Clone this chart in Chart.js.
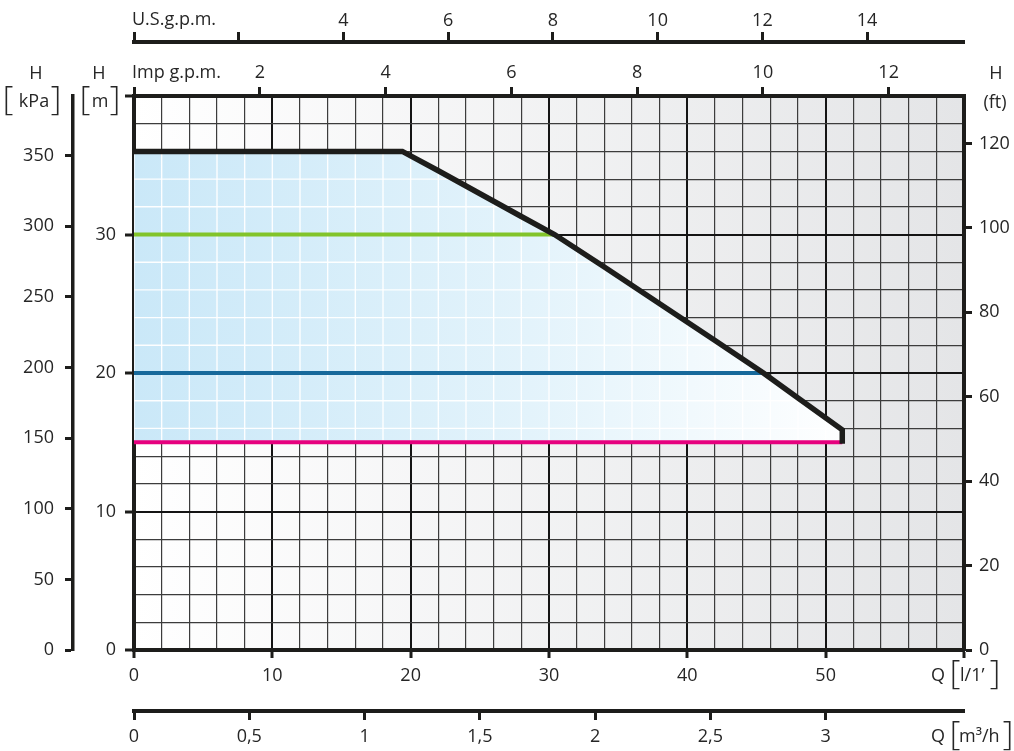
<!DOCTYPE html>
<html>
<head>
<meta charset="utf-8">
<script src="https://cdn.jsdelivr.net/npm/chart.js@4.4.1/dist/chart.umd.min.js"></script>
<style>
html,body{margin:0;padding:0;background:#ffffff;}
#wrap{width:1014px;height:751px;position:relative;}
</style>
</head>
<body>
<div id="wrap"><canvas id="c"></canvas></div>
<script>
// ---- data ----
const curveQ = [0, 19.4, 22, 24, 26, 28, 30.4, 34, 38, 42, 45.5, 48, 51.2, 51.2];
const curveH = [36, 36, 34.6, 33.5, 32.4, 31.3, 30, 27.65, 25.0, 22.35, 20, 18.2, 15.9, 14.9];
const greenQ = [0, 30.3];
const greenH = [30, 30];
const blueQ = [0, 45.4];
const blueH = [20, 20];
const pinkQ = [0, 51.2];
const pinkH = [15, 15];

const qLabels = [0, 10, 20, 30, 40, 50];
const hLabels = [0, 10, 20, 30];
const kpaLabels = [0, 50, 100, 150, 200, 250, 300, 350];
const ftLabels = [0, 20, 40, 60, 80, 100, 120];
const impLabels = [2, 4, 6, 8, 10, 12];
const usLabels = [4, 6, 8, 10, 12, 14];
const m3hLabels = [0, 0.5, 1, 1.5, 2, 2.5, 3];

// unit conversions
const Q_MAX = 60, H_MAX = 40;
const KPA_PER_M = 9.80665, FT_PER_M = 3.28084;
const LPM_PER_IMP = 4.54609, LPM_PER_US = 3.78541, LPM_PER_M3H = 1000 / 60;

const FONT = '"Open Sans", "Noto Sans", sans-serif';
const TXT = '#262626';
const INK = '#1d1d1b';
const tickFont = {family: FONT, size: 18};

function pts(xs, ys) { return xs.map((x, i) => ({x: x, y: ys[i]})); }
function isIn(v, arr) { return arr.some(a => Math.abs(a - v) < 1e-6); }
function isMajor(v, step) { return Math.abs(v / step - Math.round(v / step)) < 1e-6; }

const FILL_INDEX = 4;

const bgPlugin = {
  id: 'bg',
  beforeDraw(chart) {
    const {ctx, chartArea: a} = chart;
    const g = ctx.createLinearGradient(a.left, 0, a.right, 0);
    g.addColorStop(0, '#ffffff');
    g.addColorStop(1, '#e4e5e7');
    ctx.save();
    ctx.fillStyle = g;
    ctx.fillRect(a.left, a.top, a.right - a.left, a.bottom - a.top);
    ctx.restore();
  }
};

const whiteGridPlugin = {
  id: 'whiteGrid',
  afterDatasetDraw(chart, args) {
    if (args.index !== FILL_INDEX) return;
    const meta = chart.getDatasetMeta(FILL_INDEX);
    const xs = chart.scales.x, ys = chart.scales.y;
    const p = meta.data;
    const base = ys.getPixelForValue(pinkH[0]);
    const ctx = chart.ctx;
    ctx.save();
    ctx.beginPath();
    ctx.moveTo(p[0].x, p[0].y);
    for (let i = 1; i < p.length; i++) ctx.lineTo(p[i].x, p[i].y);
    ctx.lineTo(p[p.length - 1].x, base);
    ctx.lineTo(p[0].x, base);
    ctx.closePath();
    ctx.clip();
    ctx.strokeStyle = 'rgba(255,255,255,0.95)';
    ctx.lineWidth = 1.4;
    const a = chart.chartArea;
    xs.ticks.forEach(t => {
      const x = xs.getPixelForValue(t.value);
      ctx.beginPath(); ctx.moveTo(x, a.top); ctx.lineTo(x, a.bottom); ctx.stroke();
    });
    ys.ticks.forEach(t => {
      const y = ys.getPixelForValue(t.value);
      ctx.beginPath(); ctx.moveTo(a.left, y); ctx.lineTo(a.right, y); ctx.stroke();
    });
    ctx.restore();
  }
};

const textPlugin = {
  id: 'texts',
  afterDraw(chart) {
    const ctx = chart.ctx;
    ctx.save();
    ctx.fillStyle = TXT;
    ctx.textBaseline = 'middle';
    const f = '18px ' + FONT;
    const fb = '300 33px ' + FONT;
    function t(s, x, y, align, font) {
      ctx.font = font || f;
      ctx.textAlign = align || 'center';
      ctx.fillText(s, x, y);
    }
    t('U.S.g.p.m.', 132, 20, 'left');
    t('Imp g.p.m.', 132, 73, 'left');
    // left H [kPa]
    t('H', 36, 74);
    t('kPa', 34, 102);
    t('[', 8, 101, 'center', fb);
    t(']', 56, 101, 'center', fb);
    // H [m]
    t('H', 99, 74);
    t('m', 100, 102);
    t('[', 85, 101, 'center', fb);
    t(']', 115, 101, 'center', fb);
    // right H (ft)
    t('H', 996, 74);
    t('(ft)', 995, 103);
    // Q [l/1']
    t('Q', 931, 676, 'left');
    t('[', 955, 675, 'center', fb);
    t('l/1\u2019', 960, 676, 'left');
    t(']', 995, 675, 'center', fb);
    // Q [m3/h]
    t('Q', 931, 737, 'left');
    t('[', 955, 736, 'center', fb);
    t('m\u00B3/h', 959, 737, 'left');
    t(']', 1008, 736, 'center', fb);
    ctx.restore();
  }
};

function gridOpts(step) {
  return {
    color: c => isMajor(c.tick.value, step) ? '#141414' : '#3c3c3c',
    lineWidth: c => isMajor(c.tick.value, step) ? 2 : 1.2,
    tickColor: c => isMajor(c.tick.value, step) ? INK : 'rgba(0,0,0,0)',
    tickWidth: 3,
  };
}

const cfg = {
  type: 'line',
  data: {
    datasets: [
      { // 0 black limit curve
        data: pts(curveQ, curveH), borderColor: INK, borderWidth: 5.5,
        pointRadius: 0, tension: 0, fill: false, order: 1,
        borderJoinStyle: 'miter', borderCapStyle: 'butt'
      },
      { // 1 green
        data: pts(greenQ, greenH), borderColor: '#82c42a', borderWidth: 4,
        pointRadius: 0, fill: false, order: 2, borderCapStyle: 'butt'
      },
      { // 2 blue
        data: pts(blueQ, blueH), borderColor: '#17699b', borderWidth: 4,
        pointRadius: 0, fill: false, order: 2, borderCapStyle: 'butt'
      },
      { // 3 pink
        data: pts(pinkQ, pinkH), borderColor: '#e6007e', borderWidth: 4,
        pointRadius: 0, fill: false, order: 2, borderCapStyle: 'butt'
      },
      { // 4 blue operating area
        data: pts(curveQ, curveH), borderWidth: 0, borderColor: 'rgba(0,0,0,0)',
        pointRadius: 0, tension: 0, order: 5,
        fill: {value: pinkH[0]},
        backgroundColor: (context) => {
          const chart = context.chart;
          const a = chart.chartArea;
          if (!a) return '#d4ecf9';
          const x1 = chart.scales.x.getPixelForValue(52);
          const g = chart.ctx.createLinearGradient(a.left, 0, x1, 0);
          g.addColorStop(0, '#cae8f8');
          g.addColorStop(0.55, '#e3f3fb');
          g.addColorStop(1, '#ffffff');
          return g;
        }
      }
    ]
  },
  options: {
    responsive: true,
    maintainAspectRatio: false,
    animation: false,
    events: [],
    layout: {padding: 0},
    plugins: {legend: {display: false}, tooltip: {enabled: false}},
    scales: {
      x: {
        type: 'linear', position: 'bottom', weight: 0, min: 0, max: Q_MAX,
        ticks: {stepSize: 2, autoSkip: false, maxRotation: 0, padding: 7, color: TXT, font: tickFont,
                callback: v => isIn(v, qLabels) ? String(v) : ''},
        grid: Object.assign(gridOpts(10), {tickLength: 8}),
        border: {color: INK, width: 4},
        afterFit: s => { s.height = 61; }
      },
      m3h: {
        type: 'linear', position: 'bottom', weight: 1, min: 0, max: Q_MAX / LPM_PER_M3H,
        ticks: {stepSize: 0.5, includeBounds: false, autoSkip: false, maxRotation: 0, padding: 6, color: TXT, font: tickFont,
                callback: v => isIn(v, m3hLabels) ? String(v).replace('.', ',') : ''},
        afterBuildTicks: s => { s.ticks = s.ticks.filter(t => t.value <= m3hLabels[m3hLabels.length - 1] + 1e-6); },
        grid: {drawOnChartArea: false, tickLength: 9, tickWidth: 3, tickColor: INK},
        border: {color: INK, width: 4},
        afterFit: s => { s.height = 40; }
      },
      imp: {
        type: 'linear', position: 'top', weight: 0, min: 0, max: Q_MAX / LPM_PER_IMP,
        ticks: {stepSize: 2, includeBounds: false, autoSkip: false, maxRotation: 0, padding: 3, color: TXT, font: tickFont,
                callback: v => isIn(v, impLabels) ? String(v) : ''},
        grid: {drawOnChartArea: false, tickLength: 9, tickWidth: 3, tickColor: INK},
        border: {color: INK, width: 4},
        afterFit: s => { s.height = 54; }
      },
      us: {
        type: 'linear', position: 'top', weight: 1, min: 0, max: Q_MAX / LPM_PER_US,
        ticks: {stepSize: 2, includeBounds: false, autoSkip: false, maxRotation: 0, padding: 0, color: TXT, font: tickFont,
                callback: v => isIn(v, usLabels) ? String(v) : ''},
        grid: {drawOnChartArea: false, tickLength: 10, tickWidth: 3, tickColor: INK},
        border: {color: INK, width: 4},
        afterFit: s => { s.height = 42; }
      },
      y: {
        type: 'linear', position: 'left', weight: 0, min: 0, max: H_MAX,
        ticks: {stepSize: 2, autoSkip: false, padding: 9, color: TXT, font: tickFont,
                callback: v => isIn(v, hLabels) ? String(v) : ''},
        grid: Object.assign(gridOpts(10), {tickLength: 9}),
        border: {color: INK, width: 4},
        afterFit: s => { s.width = 61; }
      },
      kpa: {
        type: 'linear', position: 'left', weight: 1, min: 0, max: H_MAX * KPA_PER_M,
        ticks: {stepSize: 50, includeBounds: false, autoSkip: false, padding: 11, color: TXT, font: tickFont,
                callback: v => isIn(v, kpaLabels) ? String(v) : ''},
        grid: {drawOnChartArea: false, tickLength: 8, tickWidth: 3, tickColor: INK},
        border: {color: INK, width: 3.5},
        afterFit: s => { s.width = 73; }
      },
      ft: {
        type: 'linear', position: 'right', weight: 0, min: 0, max: H_MAX * FT_PER_M,
        ticks: {stepSize: 20, includeBounds: false, autoSkip: false, padding: 7, color: TXT, font: tickFont,
                callback: v => isIn(v, ftLabels) ? String(v) : ''},
        grid: {drawOnChartArea: false, tickLength: 8, tickWidth: 3, tickColor: INK},
        border: {color: INK, width: 4},
        afterFit: s => { s.width = 50; }
      }
    }
  },
  plugins: [bgPlugin, whiteGridPlugin, textPlugin]
};

new Chart(document.getElementById('c'), cfg);
</script>
</body>
</html>
